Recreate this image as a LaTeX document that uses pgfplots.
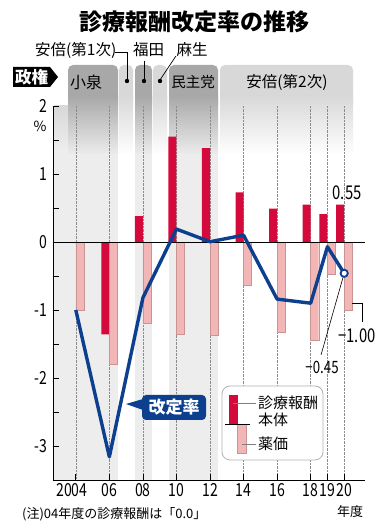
\documentclass[border=0pt]{standalone}
\usepackage{fontspec}
\usepackage{graphicx}
\usepackage{pgfplots}
\pgfplotsset{compat=1.18}
\setmainfont{Noto Sans CJK JP}
\newfontfamily\numfont{Noto Sans CJK JP}
\newcommand{\nn}[1]{\scalebox{0.78}[1]{#1}}
\definecolor{bodyred}{HTML}{D40A3C}
\definecolor{drugpink}{HTML}{F3B6B6}
\definecolor{drugedge}{HTML}{C99494}
\definecolor{lineblue}{HTML}{0D3F8F}
\definecolor{tabdark}{HTML}{A8A8A8}
\definecolor{tablight}{HTML}{D8D8D8}
\definecolor{banddark}{HTML}{EDEDED}
\newcommand{\fs}[1]{\fontsize{#1bp}{#1bp}\selectfont}
\begin{document}
\begin{tikzpicture}
\useasboundingbox (0,0) rectangle (390bp,530bp);
% ---------- background decoration (image pixel coordinates) ----------
\begin{scope}[x=1bp,y=-1bp,yshift=530bp]
  \foreach \a/\b/\c/\d in {68/118/tabdark/banddark, 119/133/tablight/white, 135/152/tabdark/banddark, 153/167/tablight/white, 169/218/tabdark/banddark, 220/353/tablight/white}{
    \fill[\c, rounded corners=5bp] (\a,65) rectangle (\b,110);
    \shade[top color=\c, bottom color=\d] (\a,96) rectangle (\b,155);
    \fill[\d] (\a,154.5) rectangle (\b,480);
  }
  \shade[top color=tablight, bottom color=banddark] (54,106) rectangle (68,150);
  \fill[banddark] (54,149.5) rectangle (68,480);
  % title
  \node[font=\bfseries\fs{23}] at (195,22) {診療報酬改定率の推移};
  % government names
  \node[font=\fs{15.5}, anchor=west, inner sep=0] at (35,50) {安倍(第1次)};
  \node[font=\fs{15.5}, inner sep=0] at (148.5,50) {福田};
  \node[font=\fs{15.5}, inner sep=0] at (192,50) {麻生};
  \draw[line width=0.7bp] (115,52) -- (127,52) -- (127,80);
  \fill (127,81) circle (2.2bp);
  \draw[line width=0.7bp] (144,61) -- (144,80);
  \fill (144,81) circle (2.2bp);
  \draw[line width=0.7bp] (160,80) -- (176,56);
  \fill (160,81) circle (2.2bp);
  \node[font=\fs{16}, inner sep=0] at (86,82) {小泉};
  \node[font=\fs{14.5}, inner sep=0] at (193,82) {民主党};
  \node[font=\fs{15.5}, inner sep=0] at (287,82) {安倍(第2次)};
  % badge
  \fill[black] (13,67) -- (50,67) -- (58,77) -- (50,87) -- (13,87) -- cycle;
  \node[white, font=\bfseries\fs{16.5}, inner sep=0] at (31.5,77) {政権};
  % percent
  \node[font=\fs{14}, inner sep=0] at (40,126) {\%};
\end{scope}
% ---------- the chart ----------
\begin{axis}[
  at={(53bp,50bp)}, anchor=south west,
  width=312bp, height=374bp, scale only axis,
  xmin=2002.64, xmax=2021.24, ymin=-3.5, ymax=2,
  clip=false,
  axis x line=bottom, axis y line=left,
  axis line style={-, black, line width=0.8bp},
  xtick={2004,2006,2008,2010,2012,2014,2016,2018,2019,2020},
  xticklabels={\hspace*{-8bp}\nn{2004},\nn{06},\nn{08},\nn{10},\nn{12},\nn{14},\nn{16},\nn{18},\nn{19},\nn{20}},
  ytick={-3,-2,-1,0,1,2},
  yticklabels={\nn{-3},\nn{-2},\nn{-1},\nn{0},\nn{1},\nn{2}},
  minor ytick={-2.5,-1.5,-0.5,0.5,1.5},
  tick align=inside, major tick length=6bp, minor tick length=6bp,
  tick style={black, line width=0.7bp},
  xmajorgrids,
  major x grid style={densely dotted, black!45, line width=0.5bp},
  tick label style={font=\numfont\fs{18}},
  xticklabel style={inner xsep=0pt},
  yticklabel style={xshift=-2bp},
]
\addplot[ybar, bar width=0.48, bar shift=-0.24, fill=bodyred, draw=none]
  coordinates {(2006,-1.36) (2008,0.38) (2010,1.55) (2012,1.38) (2014,0.73) (2016,0.49) (2018,0.55) (2019,0.41) (2020,0.55)};
\addplot[ybar, bar width=0.48, bar shift=0.24, fill=drugpink, draw=drugedge, line width=0.4bp]
  coordinates {(2004,-1.00) (2006,-1.80) (2008,-1.20) (2010,-1.36) (2012,-1.375) (2014,-0.63) (2016,-1.33) (2018,-1.45) (2019,-0.48) (2020,-1.00)};
\draw[black, line width=0.8bp] (axis cs:2002.64,0) -- (axis cs:2021.24,0);
\draw[line width=0.6bp] (axis cs:2018.62,-1.66) -- (axis cs:2020,-0.46);
\draw[line width=0.6bp] (axis cs:2020.45,-0.9) -- (axis cs:2021.05,-0.9) -- (axis cs:2021.05,-1.18);
\addplot[lineblue, line width=3.4bp, line join=round, mark=none]
  coordinates {(2004,-1.00) (2006,-3.16) (2008,-0.82) (2010,0.19) (2012,0.004) (2014,0.10) (2016,-0.84) (2018,-0.90) (2019,-0.07) (2020,-0.46)};
\addplot[only marks, mark=*, mark size=3.6bp, mark options={fill=white, draw=lineblue, line width=1.8bp}]
  coordinates {(2020,-0.46)};
\node[font=\numfont\fs{19}] at (axis cs:2020.17,0.72) {\nn{0.55}};
\node[font=\numfont\fs{19}] at (axis cs:2020.76,-1.38) {\nn{−1.00}};
\node[font=\numfont\fs{17}] at (axis cs:2018.68,-1.85) {\nn{−0.45}};
\end{axis}
% ---------- foreground decoration ----------
\begin{scope}[x=1bp,y=-1bp,yshift=530bp]
  \draw[black!30, fill=white, rounded corners=8bp, line width=0.8bp] (222,386) rectangle (323,460);
  \fill[bodyred] (229,395) rectangle (238,424);
  \filldraw[fill=drugpink, draw=drugedge, line width=0.4bp] (237,424) rectangle (246,453);
  \draw[line width=0.7bp] (225,424) -- (250,424);
  \draw[black!50, line width=0.6bp] (233,403) -- (256,403);
  \draw[black!50, line width=0.6bp] (242,444) -- (256,444);
  \node[anchor=west, inner sep=0, font=\fs{15}] at (258,403) {診療報酬};
  \node[anchor=west, inner sep=0, font=\fs{15}] at (258,420) {本体};
  \node[anchor=west, inner sep=0, font=\fs{15}] at (258,444) {薬価};
  % rate label
  \fill[lineblue, rounded corners=4bp] (142,395) rectangle (206,420);
  \fill[lineblue] (143,399) -- (126,404) -- (143,410) -- cycle;
  \node[white, font=\bfseries\fs{17}, inner sep=0] at (174,407.5) {改定率};
  % footnotes
  \node[anchor=west, inner sep=0, font=\fs{13}] at (22,514) {(注)04年度の診療報酬は「0.0」};
  \node[inner sep=0, font=\fs{13}] at (350,512) {年度};
\end{scope}
\end{tikzpicture}
\end{document}
